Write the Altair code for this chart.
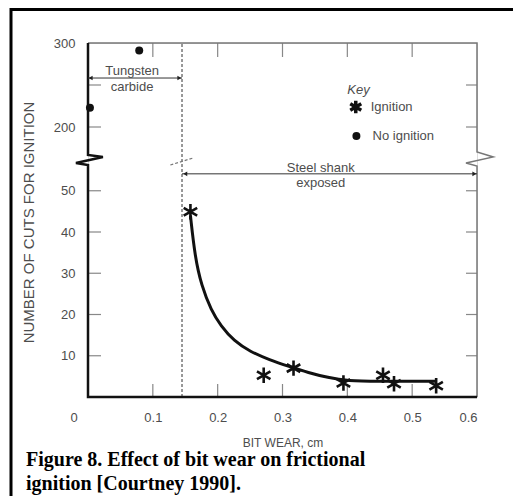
import altair as alt
import pandas as pd

# ---------------- data ----------------
ign_x = [0.158, 0.271, 0.317, 0.394, 0.455, 0.472, 0.537]
ign_y = [44.9, 5.3, 7.0, 3.4, 5.3, 3.2, 2.7]
noign_x = [0.003, 0.079]
noign_y = [223, 291]
fit_x = [0.158, 0.165, 0.175, 0.190, 0.205, 0.225, 0.250, 0.280, 0.310, 0.340, 0.370, 0.400, 0.450, 0.500, 0.537]
fit_y = [44.0, 34.0, 27.0, 21.0, 17.2, 13.6, 11.0, 9.0, 7.4, 5.9, 4.7, 3.9, 3.8, 3.8, 3.8]

x_label_values = [0, 0.1, 0.2, 0.3, 0.4, 0.5, 0.6]
y_label_values = [10, 20, 30, 40, 50, 200, 300]
x_inner_ticks = [0.1, 0.2, 0.3, 0.4, 0.5]
y_inner_ticks = [10, 20, 30, 40, 50, 200, 250]

# broken y axis: piecewise scale
y_domain = [0, 56, 175, 300]
y_range = [354, 123, 105, 0]
x_domain = [0, 0.6]

tungsten_limit = 0.145

# frame polylines (with axis-break zigzags)
left_x = [0, 0, 0.023, -0.0186, 0, 0, 0.6]
left_y = [300, 128.7, 115.5, 75.8, 62.6, 0, 0]
right_x = [0, 0.6, 0.6, 0.625, 0.583, 0.6, 0.6]
right_y = [300, 300, 148.6, 115.5, 75.8, 56, 0]
dash_squiggle_x = [0.127, 0.162]
dash_squiggle_y = [62.6, 108.9]

# annotations
tung_arrow_y = 258.3
steel_arrow_y = 54.1
center_texts = ["Tungsten", "carbide", "Steel shank", "exposed"]
center_text_x = [0.068, 0.068, 0.359, 0.359]
center_text_y = [266.7, 247.6, 55.5, 51.9]
head_x = [0.004, 0.141, 0.150, 0.596]
head_y = [tung_arrow_y, tung_arrow_y, steel_arrow_y, steel_arrow_y]
head_shape = ["triangle-left", "triangle-right", "triangle-left", "triangle-right"]

key_title_xy = (0.40, 244)
key_labels = ["Ignition", "No ignition"]
key_label_x = [0.436, 0.439]
key_label_y = [223.8, 189.3]
key_star_xy = (0.413, 223.8)
key_dot_xy = (0.414, 189.3)

caption_lines = ["Figure 8. Effect of bit wear on frictional", "ignition [Courtney 1990]."]

W, H = 389, 354
FONT = "Liberation Sans"
GRAY = "#4d4d4d"
ASTERISK = "M0,-1L0,1M-0.87,-0.5L0.87,0.5M-0.87,0.5L0.87,-0.5"

xs = alt.Scale(domain=x_domain, nice=False, zero=False)
ys = alt.Scale(domain=y_domain, range=y_range, nice=False, zero=False)
xa = alt.Axis(values=x_label_values, domain=False, ticks=False, grid=False,
              labelExpr="datum.value == 0 ? '0' : format(datum.value, '.1f')",
              labelOffset={"condition": {"test": "datum.value == 0", "value": -18}, "value": 0},
              labelFont=FONT, labelFontSize=13, labelColor=GRAY, labelPadding=14,
              title="BIT WEAR, cm", titleFont=FONT, titleFontSize=12, titleFontWeight="normal",
              titleColor=GRAY, titleX=W / 2, titleY=45, titleBaseline="middle")
ya = alt.Axis(values=y_label_values, domain=False, ticks=False, grid=False, format="d",
              labelFont=FONT, labelFontSize=13, labelColor=GRAY, labelPadding=13,
              title="NUMBER OF CUTS FOR IGNITION", titleFont=FONT, titleFontSize=15,
              titleFontWeight="normal", titleColor=GRAY, titleX=-60, titleY=179,
              titleAngle=-90, titleBaseline="middle", titleAlign="center")


def X(f="x"):
    return alt.X(f"{f}:Q", scale=xs, axis=xa)


def Y(f="y"):
    return alt.Y(f"{f}:Q", scale=ys, axis=ya)


def df(**k):
    return pd.DataFrame(k)


left_frame = alt.Chart(df(x=left_x, y=left_y, i=list(range(len(left_x))))).mark_line(
    color="#111", strokeWidth=2.5, strokeJoin="miter").encode(X(), Y(), order="i:Q")
right_frame = alt.Chart(df(x=right_x, y=right_y, i=list(range(len(right_x))))).mark_line(
    color="#777", strokeWidth=1.5, strokeJoin="miter").encode(X(), Y(), order="i:Q")

dashed = alt.Chart(df(x=[tungsten_limit], y=[0], y2=[300])).mark_rule(
    color="#555", strokeWidth=1.2, strokeDash=[3, 2]).encode(X(), Y(), y2="y2:Q")
squiggle = alt.Chart(df(x=dash_squiggle_x, y=dash_squiggle_y)).mark_line(
    color="#777", strokeWidth=1.2, strokeDash=[3, 2]).encode(X(), Y())

yticks = pd.DataFrame({"y": y_inner_ticks})
lt = alt.Chart(yticks).mark_rule(color="#888", strokeWidth=1.2).encode(
    Y(), x=alt.value(0), x2=alt.value(13))
rt = alt.Chart(yticks).mark_rule(color="#888", strokeWidth=1.2).encode(
    Y(), x=alt.value(W - 11), x2=alt.value(W))
xticks = pd.DataFrame({"x": x_inner_ticks})
tt = alt.Chart(xticks).mark_rule(color="#888", strokeWidth=1.2).encode(
    X(), y=alt.value(0), y2=alt.value(14))
bt = alt.Chart(xticks).mark_rule(color="#888", strokeWidth=1.2).encode(
    X(), y=alt.value(H - 13), y2=alt.value(H))

fit = alt.Chart(df(x=fit_x, y=fit_y, i=list(range(len(fit_x))))).mark_line(
    color="#111", strokeWidth=3, interpolate="basis").encode(X(), Y(), order="i:Q")

stars = alt.Chart(df(x=ign_x, y=ign_y)).mark_point(
    shape=ASTERISK, size=240, filled=False, stroke="#111", strokeWidth=2.6, opacity=1).encode(X(), Y())
dots = alt.Chart(df(x=noign_x, y=noign_y)).mark_circle(
    size=64, color="#111", opacity=1).encode(X(), Y())

arrows = alt.Chart(df(x=[0, tungsten_limit], x2=[tungsten_limit, 0.6],
                      y=[tung_arrow_y, steel_arrow_y])).mark_rule(
    color="#333", strokeWidth=1).encode(X(), Y(), x2="x2:Q")
heads = alt.Chart(df(x=head_x, y=head_y, s=head_shape)).mark_point(
    filled=True, size=22, color="#222", opacity=1).encode(
    X(), Y(), shape=alt.Shape("s:N", scale=None, legend=None))

ctext = alt.Chart(df(x=center_text_x, y=center_text_y, t=center_texts)).mark_text(
    font=FONT, fontSize=13, color=GRAY, align="center", baseline="middle").encode(X(), Y(), text="t:N")

key_title = alt.Chart(df(x=[key_title_xy[0]], y=[key_title_xy[1]], t=["Key"])).mark_text(
    font=FONT, fontSize=13, fontStyle="italic", color=GRAY, align="left", baseline="middle").encode(
    X(), Y(), text="t:N")
key_text = alt.Chart(df(x=key_label_x, y=key_label_y, t=key_labels)).mark_text(
    font=FONT, fontSize=13, color=GRAY, align="left", baseline="middle").encode(X(), Y(), text="t:N")
key_star = alt.Chart(df(x=[key_star_xy[0]], y=[key_star_xy[1]])).mark_point(
    shape=ASTERISK, size=160, filled=False, stroke="#111", strokeWidth=3.5, opacity=1).encode(X(), Y())
key_dot = alt.Chart(df(x=[key_dot_xy[0]], y=[key_dot_xy[1]])).mark_circle(
    size=64, color="#111", opacity=1).encode(X(), Y())

border_top = alt.Chart(df(a=[0])).mark_rule(color="#000", strokeWidth=3).encode(
    x=alt.value(-77), x2=alt.value(W + 36), y=alt.value(-33.5))
border_left = alt.Chart(df(a=[0])).mark_rule(color="#000", strokeWidth=3).encode(
    x=alt.value(-77), y=alt.value(-35), y2=alt.value(H + 99))
cap1 = alt.Chart(df(t=[caption_lines[0]])).mark_text(
    font="Liberation Serif", fontSize=20, fontWeight="bold", color="#000", align="left",
    baseline="alphabetic").encode(x=alt.value(-62), y=alt.value(423), text="t:N")
cap2 = alt.Chart(df(t=[caption_lines[1]])).mark_text(
    font="Liberation Serif", fontSize=20, fontWeight="bold", color="#000", align="left",
    baseline="alphabetic").encode(x=alt.value(-62), y=alt.value(447), text="t:N")

chart = alt.layer(
    dashed, squiggle, lt, rt, tt, bt, right_frame, left_frame, arrows, heads, fit, stars, dots,
    ctext, key_title, key_text, key_star, key_dot, border_top, border_left, cap1, cap2
).properties(
    width=W, height=H,
    autosize=alt.AutoSizeParams(type="none"),
    padding={"left": 80, "top": 35, "right": 36, "bottom": 99},
).configure_view(stroke=None).configure(background="white")

chart.save("out.html", embed_options={"renderer": "svg", "actions": False})
